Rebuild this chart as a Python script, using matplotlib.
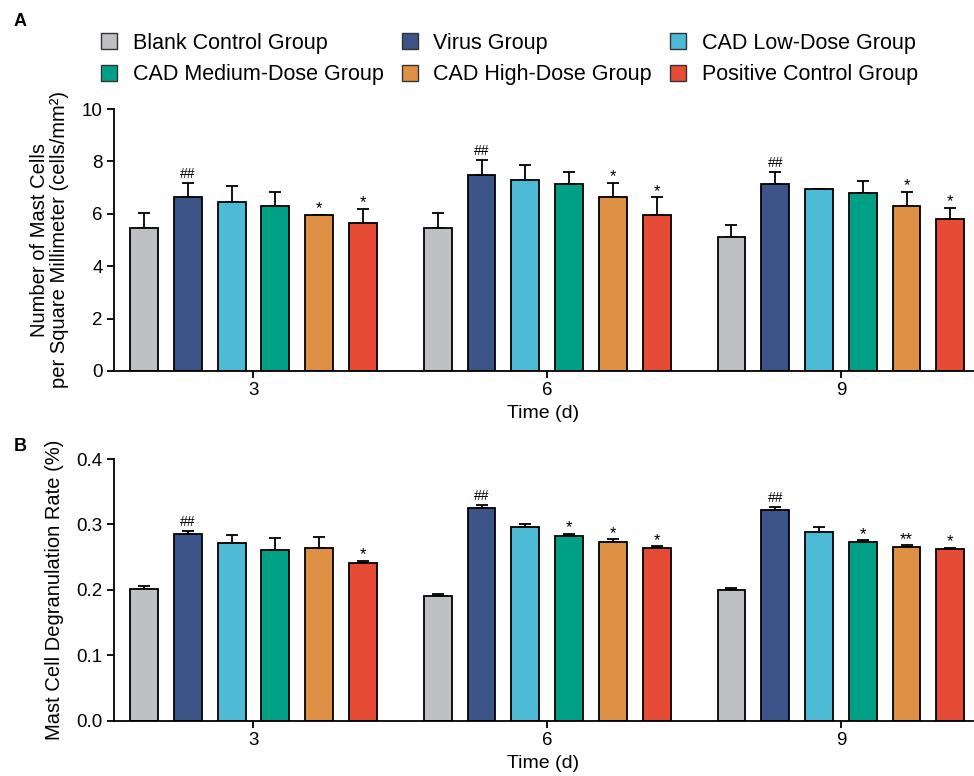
import numpy as np
import matplotlib
matplotlib.use('Agg')
import matplotlib.pyplot as plt
from matplotlib.patches import Patch

plt.rcParams['font.family'] = ['Liberation Sans', 'DejaVu Sans']

groups = ["Blank Control Group", "Virus Group", "CAD Low-Dose Group",
          "CAD Medium-Dose Group", "CAD High-Dose Group", "Positive Control Group"]
colors = ["#BEC0C4", "#3C5488", "#4DBBD5", "#00A087", "#DE9045", "#E64B35"]
days = ["3", "6", "9"]

# panel A: mast cells per mm2 (rows = groups, cols = days)
mast_mean = [[5.47, 5.47, 5.13],
             [6.64, 7.47, 7.12],
             [6.46, 7.29, 6.96],
             [6.31, 7.12, 6.79],
             [5.95, 6.63, 6.30],
             [5.64, 5.95, 5.79]]
mast_err = [[0.56, 0.56, 0.43],
            [0.55, 0.57, 0.46],
            [0.59, 0.56, 0.0],
            [0.53, 0.46, 0.46],
            [0.0, 0.55, 0.54],
            [0.55, 0.68, 0.45]]
mast_marks = [["", "", ""],
              ["##", "##", "##"],
              ["", "", ""],
              ["", "", ""],
              ["*", "*", "*"],
              ["*", "*", "*"]]

# panel B: degranulation rate
degran_mean = [[0.202, 0.191, 0.1995],
               [0.2855, 0.3257, 0.3216],
               [0.2718, 0.296, 0.289],
               [0.2606, 0.282, 0.2728],
               [0.2646, 0.2738, 0.2651],
               [0.2417, 0.2641, 0.2621]]
degran_err = [[0.004, 0.0025, 0.004],
              [0.005, 0.004, 0.005],
              [0.012, 0.004, 0.007],
              [0.019, 0.0035, 0.003],
              [0.017, 0.0036, 0.003],
              [0.0025, 0.0025, 0.002]]
degran_marks = [["", "", ""],
                ["##", "##", "##"],
                ["", "", ""],
                ["", "*", "*"],
                ["", "*", "**"],
                ["*", "*", "*"]]


def draw_panel(ax, means, errs, marks, ylim, yticks, ytick_fmt, ylabel, xlabelpad):
    x = np.arange(len(days))
    step = 0.149
    width = 0.095
    for i in range(len(groups)):
        pos = x + (i - 2.5) * step
        m = np.array(means[i])
        e = np.array(errs[i])
        ax.bar(pos, m, width, color=colors[i], edgecolor='black', linewidth=1.3, zorder=2)
        ax.errorbar(pos, m, yerr=[np.zeros_like(e), e], fmt='none', ecolor='black',
                    elinewidth=1.3, capsize=4.5, capthick=1.3, zorder=1)
        for j in range(len(days)):
            txt = marks[i][j]
            if txt:
                fs = 10 if '#' in txt else 12
                ax.annotate(txt, (pos[j], m[j] + e[j]), xytext=(0, 1.5 if '#' in txt else -1),
                            textcoords='offset points', ha='center', va='bottom', fontsize=fs)
    ax.set_xlim(-0.475, 2.45)
    ax.set_ylim(*ylim)
    ax.set_yticks(yticks)
    ax.set_yticklabels([ytick_fmt.format(t) for t in yticks])
    ax.set_xticks(x)
    ax.set_xticklabels(days)
    ax.spines['top'].set_visible(False)
    ax.spines['right'].set_visible(False)
    ax.spines['left'].set_linewidth(1.3)
    ax.spines['bottom'].set_linewidth(1.3)
    ax.tick_params(axis='both', direction='out', length=5, width=1.3, labelsize=13.5, pad=3)
    ax.set_ylabel(ylabel, fontsize=14.5, labelpad=9, linespacing=1.1)
    ax.set_xlabel('Time (d)', fontsize=14, labelpad=xlabelpad)


fig = plt.figure(figsize=(9.74, 7.76), dpi=100)
ax1 = fig.add_axes([0.117, 0.522, 0.882, 0.3375])
ax2 = fig.add_axes([0.117, 0.071, 0.882, 0.3375])

draw_panel(ax1, mast_mean, mast_err, mast_marks, (0, 10), [0, 2, 4, 6, 8, 10], '{:g}',
           'Number of Mast Cells\nper Square Millimeter (cells/mm²)', 4)
draw_panel(ax2, degran_mean, degran_err, degran_marks, (0, 0.4), [0, 0.1, 0.2, 0.3, 0.4], '{:.1f}',
           'Mast Cell Degranulation Rate (%)', 4)

# legend reads row by row in the reference, matplotlib fills columns first
order = [0, 3, 1, 4, 2, 5]
handles = [Patch(facecolor=colors[k], edgecolor='#333333', linewidth=1.0) for k in order]
labels = [groups[k] for k in order]
fig.legend(handles, labels, ncol=3, loc='upper left', bbox_to_anchor=(0.104, 0.958),
           frameon=False, fontsize=15.5, handlelength=0.74, handleheight=0.8,
           handletextpad=0.72, columnspacing=0.85, labelspacing=0.5,
           borderpad=0, borderaxespad=0)

fig.text(0.014, 0.972, 'A', fontsize=13, fontweight='bold', va='center')
fig.text(0.014, 0.424, 'B', fontsize=13, fontweight='bold', va='center')

fig.savefig('out.png', dpi=100)
